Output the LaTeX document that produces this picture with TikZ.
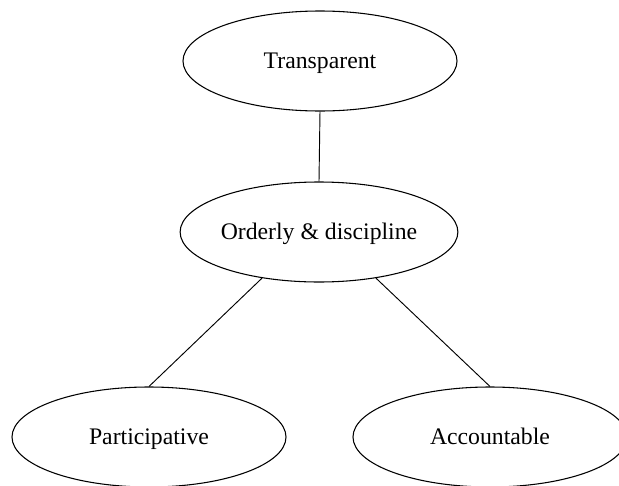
\documentclass[tikz,border=0pt]{standalone}
\usepackage{fontspec}
\setmainfont{Liberation Serif}
\usetikzlibrary{shapes.geometric}

\tikzset{oval/.style={ellipse, draw, thick, minimum width=205.5pt, minimum height=75pt, inner sep=0pt, text height=15pt, text depth=3.5pt, font=\fontsize{17.8}{20}\selectfont}}

\begin{document}
\begin{tikzpicture}[x=0.75pt, y=-0.75pt]
 \useasboundingbox (0,0) rectangle (619,486);
 \clip (0,0) rectangle (619,486);
 \node[oval] (trans) at (320,61) {Transparent};
 \node[oval] (ord) at (319,232) {Orderly \& discipline};
 \node[oval] (part) at (149,437) {Participative};
 \node[oval] (acc) at (490,437) {Accountable};

 %%%%%%%%%%%%%%%%%%%%%%%%%%%%%%%%%%%
 \draw[line width=0.7pt] (trans.south) -- (ord.north);
 \draw[line width=0.7pt] (ord.219) -- (part.north);
 \draw[line width=0.7pt] (ord.321) -- (acc.north);
\end{tikzpicture}
\end{document}
